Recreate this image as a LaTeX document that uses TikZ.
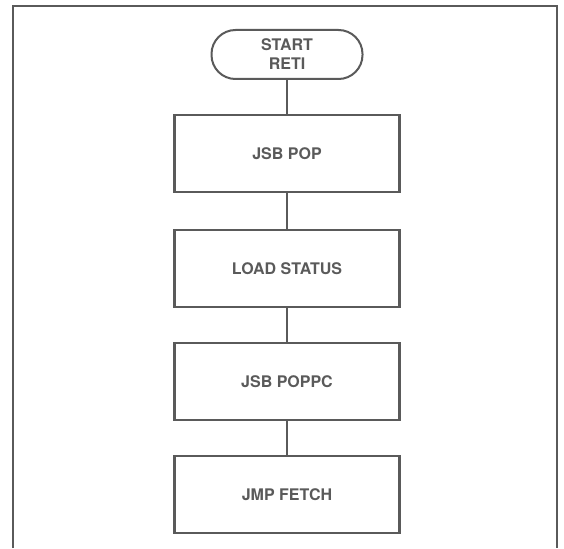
\documentclass[tikz,border=0pt]{standalone}
\usepackage{fontspec}
\setmainfont{TeX Gyre Heros}
\usetikzlibrary{shapes.geometric, arrows}
\definecolor{inkgray}{HTML}{5A5A5A}
\tikzstyle{every node}=[font=\bfseries\fontsize{16}{19}\selectfont, text=inkgray, node distance=113pt]
\tikzstyle{startstop} = [rectangle, rounded corners=24pt, minimum width=151pt, minimum height=49pt, align=center, draw=inkgray, line width=2pt]
\tikzstyle{process} = [rectangle, minimum width=225pt, minimum height=77pt, text centered, draw=inkgray, line width=2.5pt]
\tikzstyle{line} = [draw=inkgray, line width=2pt]

\begin{document}
\begin{tikzpicture}[x=1pt, y=-1pt]
            \useasboundingbox (0,0) rectangle (564,548);
            \draw [line] (13,548) -- (13,6) -- (557,6) -- (557,548);
            \node (start) [startstop] at (287,54.5) {START\\RETI};
            \node (pro1) [process, below of=start, node distance=99pt] {JSB POP};
            \node (pro2) [process, below of=pro1, node distance=115pt] {LOAD STATUS};
            \node (pro3) [process, below of=pro2] {JSB POPPC};
            \node (pro4) [process, below of=pro3] {JMP FETCH};
            \draw [line] (start) -- (pro1);
            \draw [line] (pro1) -- (pro2);
            \draw [line] (pro2) -- (pro3);
            \draw [line] (pro3) -- (pro4);
          \end{tikzpicture}
\end{document}
